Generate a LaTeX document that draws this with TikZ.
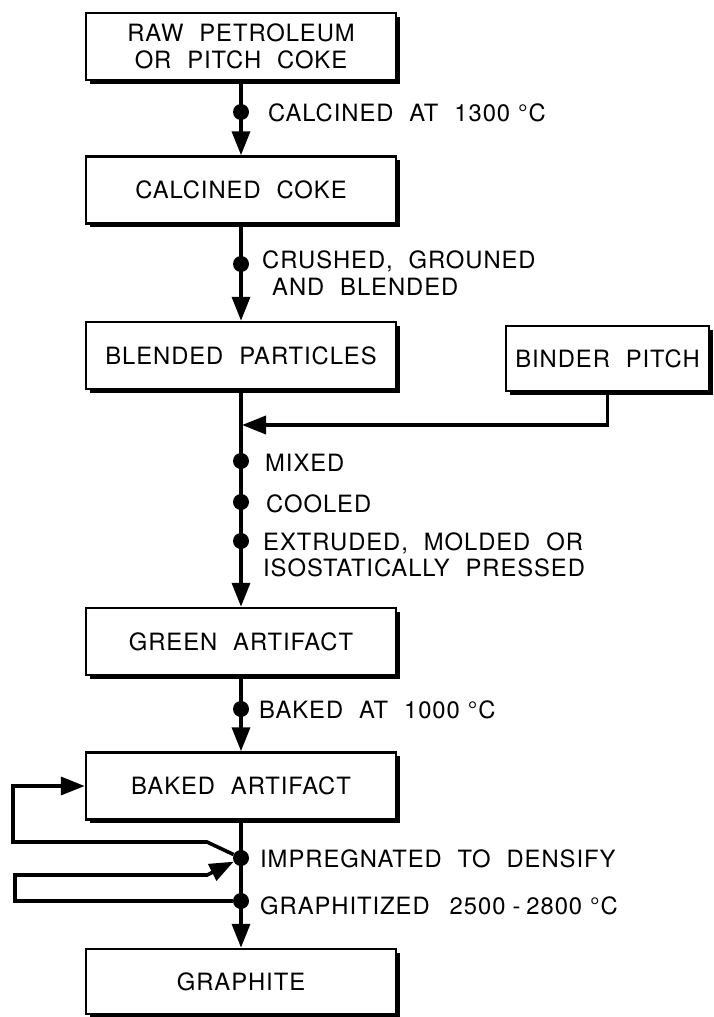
\documentclass[tikz,border=0pt]{standalone}
\usepackage{fontspec}
\setmainfont{TeX Gyre Heros}[LetterSpace=4,WordSpace=2.1]
\usetikzlibrary{arrows.meta,shadows}
\begin{document}
\begin{tikzpicture}[x=1pt,y=-1pt,
  every node/.style={font=\fontsize{23.8}{27}\selectfont},
  box/.style={draw, line width=2.5pt, fill=white, minimum width=310pt,
    minimum height=67pt, align=center, inner sep=0pt,
    drop shadow={shadow xshift=3.5pt, shadow yshift=-3.5pt, fill=black, opacity=1}},
  lbl/.style={anchor=north west, inner sep=0pt, align=left},
  dot/.style={circle, fill=black, inner sep=0pt, minimum size=16pt},
  arr/.style={line width=3.6pt, -{Triangle[length=24pt,width=18pt]}}]
\path[use as bounding box, fill=white] (0,0) rectangle (714,1017);

% boxes
\node[box] (raw) at (241,46.5) {RAW PETROLEUM\\OR PITCH COKE};
\node[box] (calc) at (241,190) {CALCINED COKE};
\node[box] (blend) at (241,355.5) {BLENDED PARTICLES};
\node[box, minimum width=203pt, minimum height=65pt] (binder) at (607.5,358.5) {BINDER PITCH};
\node[box] (green) at (241,641.5) {GREEN ARTIFACT};
\node[box] (baked) at (241,786) {BAKED ARTIFACT};
\node[box, minimum height=65pt] (graph) at (241,981.5) {GRAPHITE};

% main connectors
\draw[arr] (raw.south) -- (calc.north);
\draw[arr] (calc.south) -- (blend.north);
\draw[arr] (blend.south) -- (green.north);
\draw[arr] (green.south) -- (baked.north);
\draw[arr] (baked.south) -- (graph.north);

% binder join
\coordinate (join) at (242,425);
\draw[arr] (binder.south) |- (join);

% dots
\node[dot] (d1) at (241,112) {};
\node[dot] (d2) at (241,264) {};
\node[dot] (dmix) at (241,461) {};
\node[dot] (dcool) at (241,502) {};
\node[dot] (dext) at (241,541) {};
\node[dot] (dbake) at (241,709) {};
\node[dot] (dimp) at (241,858) {};
\node[dot] (dgra) at (241,901) {};

% loops
\coordinate (u1) at (207,842);
\coordinate (u2) at (13,842);
\draw[arr] (dimp) -- (u1) -- (u2) |- (baked.west);
\coordinate (l1) at (15,901);
\coordinate (l2) at (207,875);
\draw[arr] (dgra) -- (l1) |- (l2) -- (dimp);

% labels
\node[lbl] (t1) at (268,103.5) {CALCINED AT 1300\hspace{8pt}°C};
\node[lbl] (t2) at (262,251) {CRUSHED, GROUNED\\\hspace*{10pt}AND BLENDED};
\node[lbl] (t3) at (265,454) {MIXED};
\node[lbl] (t4) at (266,494.3) {COOLED};
\node[lbl] (t5) at (263,532.8) {EXTRUDED, MOLDED OR\\[-1.5pt]ISOSTATICALLY PRESSED};
\node[lbl] (t6) at (259,701) {BAKED AT 1000\hspace{8pt}°C};
\node[lbl] (t7) at (260,849.5) {IMPREGNATED TO DENSIFY};
\node[lbl] (t8) at (260,896.5) {GRAPHITIZED\hspace{20pt}2500\hspace{7pt}-\hspace{6pt}2800\hspace{8pt}°C};
\end{tikzpicture}
\end{document}
